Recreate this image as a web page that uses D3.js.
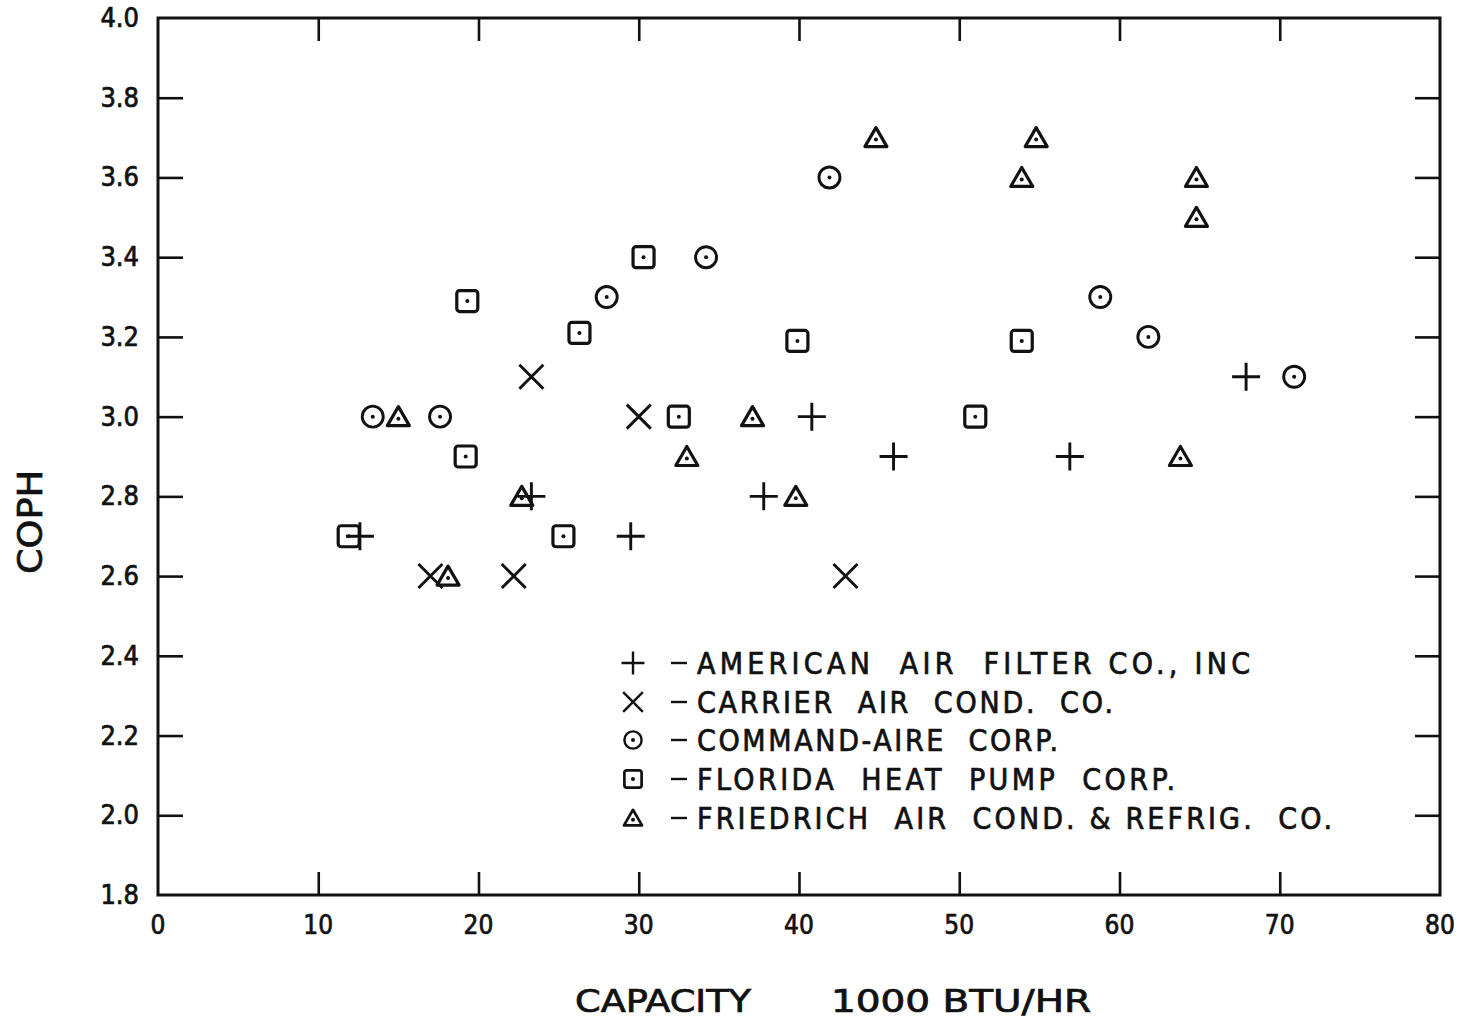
<!DOCTYPE html>
<html>
<head>
<meta charset="utf-8">
<script src="https://cdn.jsdelivr.net/npm/d3@7"></script>
<style>
  html, body { margin: 0; padding: 0; background: #fff; }
  svg text { font-family: "Liberation Sans Narrow", "DejaVu Sans Condensed", "Liberation Sans", sans-serif; fill: #111; stroke: #111; stroke-width: 0.7px; }
</style>
</head>
<body>
<svg id="chart" width="1467" height="1021"></svg>
<script>
// values
var xTicks = [0, 10, 20, 30, 40, 50, 60, 70, 80];
var yTicks = [1.8, 2.0, 2.2, 2.4, 2.6, 2.8, 3.0, 3.2, 3.4, 3.6, 3.8, 4.0];

var americanPts = [[12.6, 2.70], [23.3, 2.80], [29.5, 2.70], [37.8, 2.80], [40.8, 3.00],
                   [45.9, 2.90], [56.9, 2.90], [67.9, 3.10]];
var carrierPts = [[17.0, 2.60], [22.2, 2.60], [23.3, 3.10], [30.0, 3.00], [42.9, 2.60]];
var commandPts = [[13.4, 3.00], [17.6, 3.00], [28.0, 3.30], [34.2, 3.40], [41.9, 3.60],
                  [58.8, 3.30], [61.8, 3.20], [70.9, 3.10]];
var floridaPts = [[11.9, 2.70], [19.3, 3.29], [19.2, 2.90], [25.3, 2.70], [26.3, 3.21],
                  [30.3, 3.40], [32.5, 3.00], [39.9, 3.19], [51.0, 3.00], [53.9, 3.19]];
var friedrichPts = [[15.0, 3.00], [18.1, 2.60], [22.7, 2.80], [33.0, 2.90], [37.1, 3.00],
                    [39.8, 2.80], [44.8, 3.70], [53.9, 3.60], [54.8, 3.70], [64.8, 3.60],
                    [64.8, 3.50], [63.8, 2.90]];

var legendLabels = ["AMERICAN  AIR  FILTER CO., INC",
                    "CARRIER  AIR  COND.  CO.",
                    "COMMAND-AIRE  CORP.",
                    "FLORIDA  HEAT  PUMP  CORP.",
                    "FRIEDRICH  AIR  COND. & REFRIG.  CO."];
var legendWidths = [553, 416, 361, 478, 635];
var legendSymbols = ["plus", "cross", "circle", "square", "triangle"];

var svg = d3.select("#chart");
var pLeft = 158, pRight = 1440, pTop = 18, pBottom = 895;

var x = d3.scaleLinear().domain([0, 80]).range([pLeft, pRight]);
var y = d3.scaleLinear().domain([1.8, 4.0]).range([pBottom, pTop]);

var ink = "#111";

// ticks (inward, on all four sides)
var inner = function(v, arr){ return v != arr[0] && v != arr[arr.length-1]; };

var gB = svg.append("g").attr("transform", "translate(0," + pBottom + ")")
  .call(d3.axisBottom(x).tickValues(xTicks).tickSize(-23).tickFormat(""));
var gT = svg.append("g").attr("transform", "translate(0," + pTop + ")")
  .call(d3.axisTop(x).tickValues(xTicks.filter(function(v){return inner(v, xTicks);})).tickSize(-23).tickFormat(""));
var gL = svg.append("g").attr("transform", "translate(" + pLeft + ",0)")
  .call(d3.axisLeft(y).tickValues(yTicks).tickSize(-25).tickFormat(""));
var gR = svg.append("g").attr("transform", "translate(" + pRight + ",0)")
  .call(d3.axisRight(y).tickValues(yTicks.filter(function(v){return inner(v, yTicks);})).tickSize(-25).tickFormat(""));

[gB, gT, gL, gR].forEach(function(g){
  g.select(".domain").remove();
  g.selectAll(".tick line").attr("stroke", ink).attr("stroke-width", 2.6);
});
gB.selectAll(".tick").filter(function(d){return !inner(d, xTicks);}).select("line").remove();
gL.selectAll(".tick").filter(function(d){return !inner(d, yTicks);}).select("line").remove();

// frame
svg.append("rect").attr("x", pLeft).attr("y", pTop)
  .attr("width", pRight - pLeft).attr("height", pBottom - pTop)
  .attr("fill", "none").attr("stroke", ink).attr("stroke-width", 3);

// tick labels
svg.append("g").selectAll("text").data(xTicks).enter().append("text")
  .attr("x", function(d){ return x(d); })
  .attr("y", 934)
  .attr("text-anchor", "middle")
  .attr("font-size", 26)
  .text(function(d){ return d; });

svg.append("g").selectAll("text").data(yTicks).enter().append("text")
  .attr("x", 139)
  .attr("y", function(d){ return y(d) + 9; })
  .attr("text-anchor", "end")
  .attr("font-size", 27)
  .text(function(d){ return d.toFixed(1); });

// axis titles
svg.append("text")
  .attr("x", 575).attr("y", 1012)
  .attr("font-size", 32)
  .attr("textLength", 176).attr("lengthAdjust", "spacingAndGlyphs")
  .text("CAPACITY");
svg.append("text")
  .attr("x", 831).attr("y", 1012)
  .attr("font-size", 32)
  .attr("textLength", 260).attr("lengthAdjust", "spacingAndGlyphs")
  .text("1000 BTU/HR");

svg.append("text")
  .attr("transform", "translate(42,522) rotate(-90)")
  .attr("text-anchor", "middle")
  .attr("font-size", 33)
  .attr("textLength", 104).attr("lengthAdjust", "spacingAndGlyphs")
  .text("COPH");

// marker drawing
function drawMarker(g, kind, s){
  var sw = s > 0.9 ? 2.9 : 2.4;
  if(kind == "plus"){
    g.append("path").attr("d", "M" + (-14*s) + ",0H" + (14*s) + "M0," + (-14*s) + "V" + (14*s))
      .attr("stroke", ink).attr("stroke-width", sw).attr("fill", "none");
  }
  else if(kind == "cross"){
    var a = 12*s;
    g.append("path").attr("d", "M" + (-a) + "," + (-a) + "L" + a + "," + a + "M" + a + "," + (-a) + "L" + (-a) + "," + a)
      .attr("stroke", ink).attr("stroke-width", sw).attr("fill", "none");
  }
  else if(kind == "circle"){
    g.append("circle").attr("r", 10.5*s).attr("fill", "none").attr("stroke", ink).attr("stroke-width", sw);
    g.append("circle").attr("r", 2).attr("fill", ink);
  }
  else if(kind == "square"){
    var h = 10.5*s;
    g.append("rect").attr("x", -h).attr("y", -h).attr("width", 2*h).attr("height", 2*h)
      .attr("rx", 3*s).attr("fill", "none").attr("stroke", ink).attr("stroke-width", sw + 0.3);
    g.append("circle").attr("r", 2).attr("fill", ink);
  }
  else if(kind == "triangle"){
    g.append("path").attr("d", "M0," + (-10*s) + "L" + (11*s) + "," + (9*s) + "L" + (-11*s) + "," + (9*s) + "Z")
      .attr("fill", "none").attr("stroke", ink).attr("stroke-width", sw + 0.3).attr("stroke-linejoin", "round");
    g.append("circle").attr("cy", 2*s).attr("r", 2).attr("fill", ink);
  }
}

var allSeries = [americanPts, carrierPts, commandPts, floridaPts, friedrichPts];
allSeries.forEach(function(pts, i){
  svg.append("g").selectAll("g").data(pts).enter().append("g")
    .attr("transform", function(d){ return "translate(" + x(d[0]) + "," + y(d[1]) + ")"; })
    .each(function(){ drawMarker(d3.select(this), legendSymbols[i], 1); });
});

// legend
var legRows = [663, 702, 740, 779, 818];
legendLabels.forEach(function(lbl, i){
  var g = svg.append("g").attr("transform", "translate(633," + legRows[i] + ")");
  drawMarker(g, legendSymbols[i], 0.82);
  svg.append("line").attr("x1", 671).attr("x2", 687).attr("y1", legRows[i]).attr("y2", legRows[i])
    .attr("stroke", ink).attr("stroke-width", 2.4);
  svg.append("text")
    .attr("x", 697).attr("y", legRows[i] + 11)
    .attr("font-size", 30)
    .attr("textLength", legendWidths[i]).attr("lengthAdjust", "spacing")
    .style("white-space", "pre")
    .text(lbl);
});
</script>
</body>
</html>
